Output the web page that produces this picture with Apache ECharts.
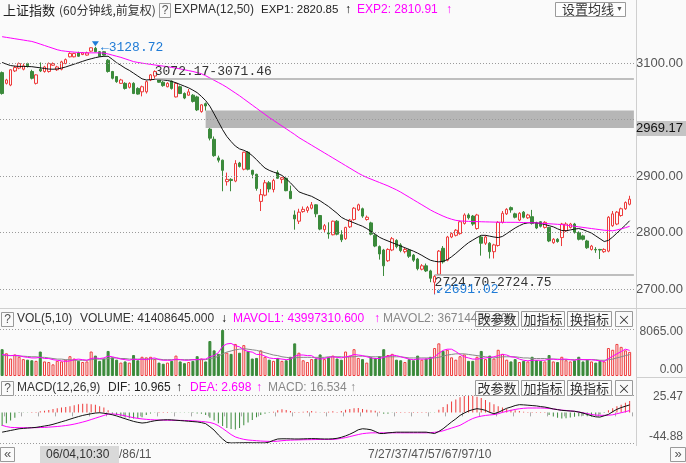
<!DOCTYPE html>
<html><head><meta charset="utf-8">
<script src="https://cdn.jsdelivr.net/npm/echarts@6/dist/echarts.min.js"></script>
<style>html,body{margin:0;padding:0;background:#fafafa;}#c{width:686px;height:463px;}</style>
</head><body><div id="c"></div>
<script>
// ---------------- data ----------------
const tradingDays = ['05/31','06/01','06/04','06/05','06/06','06/07','06/08','06/11','06/12','06/13','06/14','06/15',
  '06/19','06/20','06/21','06/22','06/25','06/26','06/27','06/28','06/29','07/02','07/03','07/04','07/05','07/06',
  '07/09','07/10','07/11','07/12','07/13','07/16','07/17','07/18','07/19','07/20','07/23'];
const hourSlots = ['10:30','11:30','14:00','15:00'];
const firstBar = '05/30,15:00';

const opens = [3083,3064,3061,3086,3091,3089,3099,3085,3064,3089,
3085,3085,3096,3088,3089,3099,3111,3111,3118,3115,
3114,3121,3126,3120,3120,3105,3085,3076,3064,3064,
3057,3064,3055,3049,3049,3070,3077,3071,3066,3058,
3068,3040,3058,3046,3043,3043,3040,3014,3028,2983,
2965,2932,2928,2890,2894,2891,2923,2912,2942,2910,
2903,2855,2866,2888,2876,2906,2894,2896,2873,2831,
2820,2837,2839,2843,2849,2830,2805,2799,2796,2820,
2796,2789,2810,2823,2840,2842,2823,2817,2795,2775,
2769,2750,2769,2786,2778,2766,2769,2760,2753,2735,
2741,2732,2712,2726,2772,2751,2792,2795,2798,2816,
2831,2829,2807,2792,2781,2781,2766,2777,2818,2833,
2844,2833,2822,2836,2826,2828,2817,2819,2809,2809,
2782,2788,2791,2803,2809,2815,2800,2794,2785,2770,
2770,2770,2766,2767,2812,2815,2830,2842,2850];
const closes = [3046,3070,3088,3092,3099,3095,3095,3073,3079,3086,
3093,3099,3099,3093,3102,3106,3117,3117,3112,3118,
3118,3127,3120,3112,3114,3085,3073,3067,3070,3055,
3064,3046,3045,3058,3067,3079,3085,3066,3060,3064,
3055,3064,3046,3038,3049,3032,3017,3026,3024,2967,
2936,2928,2910,2894,2892,2922,2917,2942,2912,2903,
2878,2867,2888,2877,2892,2896,2897,2874,2860,2824,
2836,2841,2844,2849,2833,2806,2812,2797.5,2820,2797,
2787,2809,2822,2843,2849,2829,2827,2797,2776,2762,
2741,2770,2789,2775,2768,2770,2758,2751,2736,2741,
2732,2719,2722,2767,2748,2792,2798,2804,2819,2831,
2826,2815,2831,2781,2792,2766,2778,2818,2834,2841,
2840,2827,2834,2827,2831,2816,2808,2811,2818,2785,
2788,2784,2815,2815,2815,2800,2788,2788,2773,2776,
2769,2769,2770,2827,2833,2836,2842,2853,2859];
const highs = [3085,3072,3089,3095,3101,3099,3100.5,3088,3080,3101,
3095,3101,3101,3095,3104,3108,3119,3118,3120,3119.5,
3120,3127.5,3128.72,3121,3121,3107,3086,3077,3072,3066,
3066,3066,3057,3060,3069,3080.5,3087,3071.46,3068,3066,
3069,3066,3060,3048,3054,3045,3042,3027,3030,2984.97,
2970,2936,2929,2906,2896,2928,2925,2943,2944,2911,
2904,2877,2893,2891,2895,2910,2898,2897,2883,2839,
2842,2846,2847,2854,2850,2831,2815,2818,2821,2822,
2804,2810,2824,2845,2851,2844,2830,2819,2797,2777,
2771,2772,2792,2788,2781,2773,2771,2762,2755,2744,
2745,2734,2724.70,2769,2776,2794,2800,2806,2821,2834,
2834,2831,2833,2795,2795,2783,2780,2820,2838,2843,
2846,2835,2836,2838,2833,2840,2819,2820,2820,2810,
2790,2790,2817,2818,2817,2817,2802,2796,2787,2778,
2774,2771,2772,2829,2838,2838,2844,2855,2865];
const lows = [3044,3062,3059,3084,3089,3087,3092,3071,3062,3084,
3083,3083,3095,3086,3087,3098,3110,3110,3111,3114,
3113,3120,3119,3111,3113,3083,3071,3065,3063,3053,
3055,3045,3044,3041,3046,3068,3072.17,3065,3058,3057,
3053,3039,3045,3036,3042,3030,3015,3012,3015.78,2963,
2934,2924,2873,2883,2873,2889,2915,2910,2910,2896,
2874,2838,2864,2871,2871,2895,2887,2873,2859,2805,
2815,2835,2835,2841,2827,2804,2800,2789,2795,2795,
2783,2787,2808,2821,2838,2826,2821,2795,2774,2752,
2723,2748,2767,2772,2765,2763,2755,2748,2733,2733,
2730,2712,2691.02,2724.75,2745,2749,2790,2793,2796,2814,
2823,2812,2805,2759,2778,2754,2754,2775,2816,2831,
2835,2825,2820,2825,2824,2814,2806,2809,2807,2783,
2780,2782,2776,2801,2807,2798,2786,2786,2771,2768,
2764,2753,2764,2765,2810,2813,2828,2840,2848];

const exp1 = [3101,3098,3095.5,3094.5,3094,3094,3093.8,3093.5,3092.5,3091.5,
3090.3,3089.3,3089,3089.5,3091,3093,3095.5,3098,3100.5,3103,
3105.5,3107.5,3109.5,3111,3111.8,3112,3106.5,3100.5,3096,3091,
3087,3082,3077,3072,3070,3070.5,3071,3070.5,3070,3069,
3067.5,3065,3062,3059,3056,3052,3047.5,3041,3033.5,3023.5,
3010,2996,2982,2970,2961,2953,2948,2945.5,2942,2936,
2929,2921,2914,2910,2907,2904.5,2901,2895,2888,2880,
2872,2869,2866.5,2864,2860,2856,2851,2846,2840,2834,
2827,2823,2820,2817,2814,2811,2807,2802,2797,2791.5,
2788,2785,2782,2779,2776,2773,2770,2767,2763.5,2759.5,
2755,2751,2749,2748,2749,2752,2757,2763,2769.5,2776,
2782,2786.5,2791,2795,2795,2793.5,2792,2791,2793,2798,
2803,2808,2812,2815.5,2817,2817.5,2817,2816,2814,2812,
2810,2806.5,2803.5,2803,2804.5,2806,2807,2805,2802,2799,
2794,2789,2784,2786,2792,2799,2806,2813,2820.85];
const exp2 = [3146.6,3145.4,3144.2,3143,3141.8,3140.6,3139.4,3138.2,3136,3133.5,
3131,3128.5,3126,3123.5,3121.8,3120.8,3120,3119.3,3118.7,3118.2,
3118,3118,3118,3118,3117.5,3116,3114,3112,3110,3107.5,
3105,3102.5,3101,3099.8,3098.7,3097.6,3096.5,3095.5,3094.5,3093.5,
3092.2,3091,3089.5,3088,3086.5,3085,3083,3081,3077.5,3073.5,
3069.5,3065.5,3061.5,3057,3052,3047,3042,3036.5,3031,3025.5,
3020,3014.5,3009,3003.5,2998.5,2993.5,2988.5,2983.5,2978.5,2973.5,
2968,2963.5,2959,2954.5,2950,2945.5,2941,2936.5,2932,2927.5,
2923,2918.5,2914,2909.5,2905,2901,2897.5,2894.5,2891.5,2888.5,
2885.5,2882.5,2879,2875.5,2871.5,2867,2862.5,2858,2853.5,2849,
2844.5,2840,2836,2832.5,2829,2826,2823.5,2821.5,2820.5,2820,
2819.7,2819.5,2819.3,2819,2818.8,2818.6,2818.4,2818.2,2818,2818,
2818,2818,2817.8,2817.6,2817.5,2817.2,2817,2816.5,2816,2815.5,
2815,2814.5,2814,2813,2812,2811,2810,2809,2808,2807,
2806,2805,2804,2803.5,2803,2804.5,2806.5,2808.5,2810.91];

const volumes = [4600,3900,3000,3700,3300,2900,2800,2700,2600,4200,
2500,2400,2000,2600,2500,2800,3400,3000,2600,2400,
2500,4200,3500,2600,3000,4300,3200,2800,2300,2500,
2300,3600,2700,3300,3200,3300,2900,2300,2100,2300,
2600,3500,2500,2200,2400,2600,3400,3000,2500,6000,
4400,3800,7900,4000,3800,5500,4000,5300,4300,3000,
3100,4400,3300,2800,2600,3100,2600,2700,3300,5600,
4000,2700,2400,2900,3000,3700,2900,3200,3500,3000,
2800,4200,3500,4600,3100,2900,2300,3200,3100,3400,
4600,3600,3800,2800,2700,2400,2900,2700,3500,2800,
3000,3300,4800,5600,4300,4500,3200,2800,3400,3700,
2600,2600,3300,4300,2900,3500,3000,4500,3800,2800,
2500,2900,2400,2600,2500,3300,2700,2600,2500,3600,
2500,2400,3300,2700,2500,2700,3300,2500,2800,2500,
2300,2600,2500,4800,4500,5500,5000,4400,4140.86];
const mavol1 = [3700,3600,3500,3550,3500,3300,3200,3100,3100,3200,
3000,3000,2800,2700,2600,2500,2600,2800,2900,2800,
2700,3000,3100,3000,3100,3400,3300,3100,2900,2800,
2700,2900,2800,2900,2800,3000,3100,2800,2700,2700,
2700,2900,2800,2700,2700,2800,2800,2900,2900,3300,
3500,4000,5100,5500,5600,5200,5000,4500,4200,4100,
3700,3700,3400,3100,3000,3000,2900,2800,2900,3400,
3600,3600,3500,3500,3000,2900,3000,3200,3300,3200,
3100,3300,3400,3700,3600,3500,3300,3100,3000,3000,
3200,3400,3600,3500,3300,3100,2900,2800,2900,2900,
2900,3000,3300,3900,4400,4600,4600,4200,3700,3300,
3100,2900,2900,3000,3100,3200,3300,3500,3700,3600,
3300,3200,2900,2700,2600,2700,2700,2700,2700,2900,
2900,2800,2900,2900,2800,2700,2900,2800,2800,2800,
2700,2600,2500,3000,3400,3800,4200,4600,4399.73];
const mavol2 = [3500,3500,3500,3500,3400,3400,3350,3300,3300,3200,
3200,3100,3000,2900,2900,2800,2800,2700,2700,2700,
2700,2800,2900,2900,2900,3000,3100,3100,3000,3000,
2900,2900,2900,2900,2900,2900,2900,2900,2800,2800,
2800,2800,2800,2800,2800,2800,2800,2800,2800,3000,
3100,3400,3800,4100,4300,4500,4600,4700,4600,4500,
4400,4200,4000,3800,3600,3500,3300,3200,3100,3100,
3200,3200,3200,3200,3200,3200,3200,3300,3300,3300,
3300,3200,3300,3300,3400,3400,3400,3300,3300,3300,
3300,3300,3300,3300,3300,3200,3100,3100,3100,3100,
3100,3100,3100,3200,3400,3600,3700,3800,3800,3800,
3700,3600,3500,3400,3300,3200,3100,3200,3300,3300,
3300,3300,3200,3100,3100,3000,3000,3000,3000,2900,
2900,2900,2800,2800,2800,2800,2800,2800,2800,2800,
2800,2700,2700,2800,2900,3100,3300,3500,3671.44];

const dif = [-29,-27.8,-26.5,-25.3,-24,-23.5,-23,-22.5,-22,-21,
-20,-19,-17.5,-15.7,-13.8,-12,-10,-8,-6.2,-4.5,
-3.2,-2,-1,-0.5,-1.3,-2.2,-3.5,-5.2,-7.3,-9.3,
-11.3,-13.2,-14.6,-15.6,-15,-13.5,-12.3,-11.5,-11,-10.8,
-11,-11.5,-12,-12.5,-13,-13.5,-14,-15,-16.5,-21,
-26,-33,-39,-44,-44.88,-44.7,-44.6,-44.5,-44.5,-44.6,
-44.6,-44.7,-44.8,-43.5,-41,-39,-38.7,-38.7,-38.8,-39,
-39,-38.8,-38.6,-38.4,-38.5,-38.8,-39,-39,-38.7,-38,
-36.5,-34.5,-32,-29,-25.5,-24,-24.5,-25.5,-28,-31,
-31,-30,-29.5,-29,-29,-29,-29,-29,-29,-29,
-29,-30,-31,-28,-24,-19,-14,-9.5,-4.4,-1,
2,4,5.4,4.5,3,0,-2,0,3,6,
7.8,10,11.3,11,10.5,10,9.5,8.5,7.8,6.5,
5,4,3,2.5,2,1.6,0.5,-1,-3,-5,
-6.5,-6.9,-5,-3,1,4.5,7,9,10.965];
const dea = [-19,-20.8,-22,-22.3,-22.5,-22.5,-22.5,-22.5,-22.4,-22.2,
-22,-21.6,-21.2,-20.7,-20.1,-19.3,-18.4,-17.2,-15.8,-14.2,
-12.5,-10.5,-8.5,-6.5,-4.5,-2.5,-2.3,-2.8,-3.8,-5,
-6.5,-7.8,-8.8,-9.6,-10.2,-10.7,-11,-11.2,-11.4,-11.5,
-11.6,-11.7,-11.8,-11.9,-12.1,-12.4,-12.8,-13.3,-13.9,-14.8,
-16.5,-19.5,-23.5,-28,-32.5,-36,-38,-39.5,-40.5,-41,
-41.5,-42,-42.3,-42.5,-42.6,-42.2,-41.5,-41,-40.7,-40.5,
-40.3,-40.1,-40,-39.9,-39.8,-39.7,-39.7,-39.7,-39.7,-39,
-38,-37,-35.5,-34,-32.5,-31.2,-30.5,-30,-30,-30,
-30,-30,-30,-30,-30,-30,-30,-30,-30,-30,
-30,-29.7,-29.2,-28.4,-27,-25,-23,-21,-19,-15.5,
-12,-9,-6.9,-5.5,-4.5,-3.8,-3.2,-2,0,1.5,
3,4.3,5.3,6,6.4,6.4,6.4,6.4,6.2,5.7,
5,4.2,3.3,2.8,2.2,1.6,0.6,-0.6,-1.8,-3,
-4,-4.3,-4.3,-4.2,-3.5,-2,-0.5,1,2.698];
const macdBars = [-20,-16,-12,-8,-1,-0.5,-0.5,0.5,0.5,1.5,
2.5,3.5,5,6,7,8,9,10.5,12,12.5,
12.5,12,11,9,7,3,-2,-4,-6,-7.5,
-8.5,-9,-8.5,-7,-4,-1.5,-0.5,0.5,0.5,0.5,
-0.5,-0.5,-0.5,-0.5,-0.5,-1,-1.5,-2,-4,-8,
-12,-16,-20,-23,-24.5,-25,-23,-19,-15,-11,
-7,-4,-2,-1,1,3,4.5,3.5,2,0.5,
0.5,1,1.5,2,1,-0.5,0.5,1,1.5,0.5,
2,4,5,6,6.5,5,4,3,2.5,1,
-2,-2,-0.5,0.5,0.5,0.5,0.5,0.5,0.5,0.5,
0.5,-0.5,-0.5,4,8,12,16,19,22,24,
25.47,24.5,23,21,18,15,12,9,7,5,
4,3,2,1,0.5,0.5,0.5,0.5,0.5,-4,
-6,-8,-9,-8.5,-7.5,-6.5,-5.5,-5,-5.5,-6,
-5,-3,-1,3,6,9,11,14,16.534];

const priceTicks = [2700, 2800, 2900, 3100];
const priceGrid = [2700, 2800, 2900, 3000, 3100];
const volTicks = [0, 8065];
const macdTicks = [-44.88, 25.47];
const gapStart = [36, 48, 102];
const gapPrev = [3072.17, 3015.78, 2724.70];
const gapNext = [3071.46, 2984.97, 2724.75];
const highIdx = 22, highVal = 3128.72, lowIdx = 102, lowVal = 2691.02;
const crossLabel = '2969.17';
const dateTexts = [['/86/11', 119], ['7/27/37/47/57/67/97/10', 368]];

// ---------------- build ----------------
const categories = [firstBar];
tradingDays.forEach(d => hourSlots.forEach(s => categories.push(d + ',' + s)));
categories.push('end');
const LAST = categories.length - 1;

const BG = '#fafafa', RED = '#ee3b3b', GREEN = '#3b8a3b', MAG = '#ff00ff', BLUE = '#1f7bd6';
const FONT = '"Liberation Sans", Arial, "Noto Sans CJK SC", sans-serif';
const CJK = '"Noto Sans CJK SC", sans-serif';
const MONO = '"Liberation Mono", "DejaVu Sans Mono", monospace';

const kData = opens.map((o, i) => [o, closes[i], lows[i], highs[i]]);
const volData = volumes.map((v, i) => {
  const up = closes[i] >= opens[i];
  return { value: v, itemStyle: up ? { color: BG, borderColor: RED, borderWidth: 1 } : { color: GREEN, borderColor: GREEN, borderWidth: 1 } };
});
const macdData = macdBars.map(v => ({ value: v, itemStyle: { color: v >= 0 ? RED : GREEN } }));

const dotted = { color: '#9a9a9a', type: [1, 2], width: 1 };
function hLines(vals) {
  return { silent: true, symbol: ['none', 'none'], label: { show: false }, lineStyle: dotted, animation: false,
    data: vals.map(v => ({ yAxis: v })) };
}

const gapLabel = i => gapPrev[i].toFixed(2) + '-' + gapNext[i].toFixed(2);
const gapLines = [];
[0, 2].forEach(i => {
  const y = (gapPrev[i] + gapNext[i]) / 2;
  gapLines.push([{ coord: [gapStart[i], y], lineStyle: { color: '#aaaaaa', width: 1.5, type: 'solid' },
    label: { show: true, formatter: gapLabel(i), position: i === 2 ? 'insideStartBottom' : 'insideStartTop',
      color: '#333', fontFamily: MONO, fontSize: 13, distance: [0, 1] } }, { coord: [LAST, y] }]);
});
gapLines.push([{ coord: [gapStart[1], gapPrev[1]], lineStyle: { opacity: 0 },
  label: { show: true, formatter: gapLabel(1), position: 'insideStartTop', color: '#333', fontFamily: MONO, fontSize: 13, distance: [0, 1] } },
  { coord: [LAST, gapPrev[1]] }]);

const xBase = (gi) => ({ type: 'category', gridIndex: gi, data: categories, boundaryGap: true,
  axisLine: { show: false }, axisTick: { show: false }, axisLabel: { show: false }, splitLine: { show: false } });

const lblStyle = { color: '#555', fontFamily: FONT, fontSize: 12 };

const option = {
  animation: false,
  backgroundColor: BG,
  grid: [
    { left: 0, width: 636, top: 22, height: 278 },
    { left: 0, width: 636, top: 329, height: 47 },
    { left: 0, width: 636, top: 395, height: 48 }
  ],
  xAxis: [xBase(0), xBase(1), Object.assign(xBase(2), {
    axisTick: { show: true, length: 4, inside: false, lineStyle: { color: '#aaa' }, interval: (i) => (i - 1) % 4 === 0 }
  })],
  yAxis: [
    { type: 'value', gridIndex: 0, position: 'right', min: 2680.5, max: 3172.6, splitLine: { show: false },
      axisLine: { show: false }, axisTick: { show: false },
      axisLabel: { customValues: priceTicks, formatter: v => v.toFixed(2), align: 'right', margin: 47,
        color: '#555', fontFamily: FONT, fontSize: 13 } },
    { type: 'value', gridIndex: 1, position: 'right', min: 0, max: 8065, splitLine: { show: false },
      axisLine: { show: false }, axisTick: { show: false },
      axisLabel: { customValues: volTicks, align: 'right', margin: 47,
        formatter: v => v > 0 ? '{t|' + v.toFixed(2) + '}' : '{b|' + v.toFixed(2) + '}',
        rich: { t: Object.assign({ padding: [5, 0, 0, 0] }, lblStyle), b: Object.assign({ padding: [0, 0, 13, 0] }, lblStyle) } } },
    { type: 'value', gridIndex: 2, position: 'right', min: -44.88, max: 25.47, splitLine: { show: false },
      axisLine: { show: false }, axisTick: { show: false },
      axisLabel: { customValues: macdTicks, align: 'right', margin: 47,
        formatter: v => v > 0 ? '{t|' + v.toFixed(2) + '}' : '{b|' + v.toFixed(2) + '}',
        rich: { t: Object.assign({ padding: [3, 0, 0, 0] }, lblStyle), b: Object.assign({ padding: [0, 0, 12, 0] }, lblStyle) } } }
  ],
  series: [
    { type: 'candlestick', xAxisIndex: 0, yAxisIndex: 0, data: kData, barWidth: 3,
      itemStyle: { color: BG, color0: GREEN, borderColor: RED, borderColor0: GREEN, borderWidth: 1 },
      markArea: { silent: true, itemStyle: { color: '#b6b6b6' },
        data: [[{ coord: [gapStart[1], gapPrev[1]] }, { coord: [LAST, gapNext[1]] }]] },
      markLine: { silent: true, symbol: ['none', 'none'], animation: false, data: gapLines },
      markPoint: { silent: true, animation: false, data: [
        { coord: [highIdx, highVal], symbol: 'triangle', symbolRotate: 180, symbolSize: [7, 5], symbolOffset: [0, -3],
          itemStyle: { color: BLUE },
          label: { show: true, position: 'right', distance: 2, offset: [0, 4], formatter: '←' + highVal.toFixed(2), color: BLUE, fontFamily: MONO, fontSize: 13 } },
        { coord: [lowIdx, lowVal], symbol: 'circle', symbolSize: 1, itemStyle: { color: BLUE },
          label: { show: true, position: 'right', distance: 1, offset: [0, -4], formatter: '↙' + lowVal.toFixed(2), color: BLUE, fontFamily: MONO, fontSize: 13 } }
      ] } },
    { type: 'line', xAxisIndex: 0, yAxisIndex: 0, data: exp1, symbol: 'none', lineStyle: { color: '#111', width: 1 },
      markLine: hLines(priceGrid) },
    { type: 'line', xAxisIndex: 0, yAxisIndex: 0, data: exp2, symbol: 'none', lineStyle: { color: MAG, width: 1 } },
    { type: 'bar', xAxisIndex: 1, yAxisIndex: 1, data: volData, barWidth: 3 },
    { type: 'line', xAxisIndex: 1, yAxisIndex: 1, data: mavol2, symbol: 'none', lineStyle: { color: '#888', width: 1 },
      markLine: hLines([8065]) },
    { type: 'line', xAxisIndex: 1, yAxisIndex: 1, data: mavol1, symbol: 'none', lineStyle: { color: MAG, width: 1 } },
    { type: 'bar', xAxisIndex: 2, yAxisIndex: 2, data: macdData, barWidth: 1 },
    { type: 'line', xAxisIndex: 2, yAxisIndex: 2, data: dea, symbol: 'none', lineStyle: { color: MAG, width: 1 },
      markLine: hLines(macdTicks) },
    { type: 'line', xAxisIndex: 2, yAxisIndex: 2, data: dif, symbol: 'none', lineStyle: { color: '#111', width: 1 } }
  ],
  graphic: []
};

// ---------------- decorations (text) ----------------
const G = option.graphic;
function txt(text, x, y, fill, opts) {
  G.push({ type: 'text', silent: true, z: 100, style: Object.assign({ text, x, y, fill, fontFamily: FONT, fontSize: 12, verticalAlign: 'middle' }, opts || {}) });
}
function box(x, y, w, h, fill) {
  G.push({ type: 'rect', silent: true, z: 99, shape: { x, y, width: w, height: h }, style: { fill: fill || BG, stroke: '#9a9a9a', lineWidth: 1 } });
}
function line(x1, y1, x2, y2, c) {
  G.push({ type: 'line', silent: true, z: 98, shape: { x1, y1, x2, y2 }, style: { stroke: c || '#cfcfcf', lineWidth: 1 } });
}
line(636.5, 0, 636.5, 446);
line(0, 308.5, 686, 308.5);
line(636, 377.5, 686, 377.5);

// header
txt('上证指数', 3, 10, '#222', { fontFamily: CJK, fontSize: 13 });
txt('(60分钟线,前复权)', 59, 10, '#333', { fontFamily: CJK, fontSize: 12 });
box(159.5, 3.5, 11, 14); txt('?', 165, 10.5, '#555', { align: 'center' });
txt('EXPMA(12,50)', 174, 10, '#333');
txt('EXP1: 2820.85', 261, 10, '#222', { fontSize: 11.5 });
txt('↑', 345, 10, '#000');
txt('EXP2: 2810.91', 357, 10, MAG);
txt('↑', 446, 10, MAG);
box(555.5, 2.5, 70, 14, '#fdfdfd');
txt('设置均线', 562, 9.5, '#333', { fontFamily: CJK, fontSize: 13 });
txt('▼', 616, 9.5, '#555', { fontSize: 7 });

// volume header
box(1.5, 312.5, 12, 14); txt('?', 7.5, 319.5, '#555', { align: 'center' });
txt('VOL(5,10)', 17, 319, '#333');
txt('VOLUME: 41408645.000', 80, 319, '#333');
txt('↓', 221, 319, '#000');
txt('MAVOL1: 43997310.600', 233, 319, MAG);
txt('↑', 374, 319, MAG);
txt('MAVOL2: 36714458.200', 383, 319, '#888');
function buttons(y) {
  [['改参数', 475, 43], ['加指标', 521, 43], ['换指标', 567, 44], ['×', 615, 17]].forEach(b => {
    box(b[1] + 0.5, y + 0.5, b[2], 15, BG);
    txt(b[0], b[1] + b[2] / 2 + 0.5, y + 8, '#333', { fontFamily: CJK, fontSize: 13, align: 'center' });
  });
}
buttons(311);

// macd header
box(1.5, 381.5, 12, 14); txt('?', 7.5, 388.5, '#555', { align: 'center' });
txt('MACD(12,26,9)', 17, 388, '#333');
txt('DIF: 10.965', 108, 388, '#222');
txt('↑', 176, 388, '#000');
txt('DEA: 2.698', 190, 388, MAG);
txt('↑', 256, 388, MAG);
txt('MACD: 16.534', 268, 388, '#888');
txt('↑', 350, 388, '#888');
buttons(380);

// price-axis crosshair label
G.push({ type: 'rect', silent: true, z: 99, shape: { x: 637, y: 121, width: 49, height: 15 }, style: { fill: '#c4c4c4' } });
txt(crossLabel, 683, 128.5, '#111', { align: 'right', fontSize: 13 });

// bottom axis
box(0.5, 447.5, 14, 14); txt('«', 7.5, 454.5, '#555', { align: 'center', fontSize: 13 });
box(670.5, 447.5, 15, 14); txt('»', 678, 454.5, '#555', { align: 'center', fontSize: 13 });
G.push({ type: 'rect', silent: true, z: 99, shape: { x: 40, y: 446, width: 79, height: 17 }, style: { fill: '#d9d9d9' } });
txt('06/04,10:30', 46, 455, '#333', { fontSize: 12 });
dateTexts.forEach(d => txt(d[0], d[1], 455, '#555'));

const chart = echarts.init(document.getElementById('c'), null, { renderer: 'canvas' });
chart.setOption(option);
</script></body></html>
